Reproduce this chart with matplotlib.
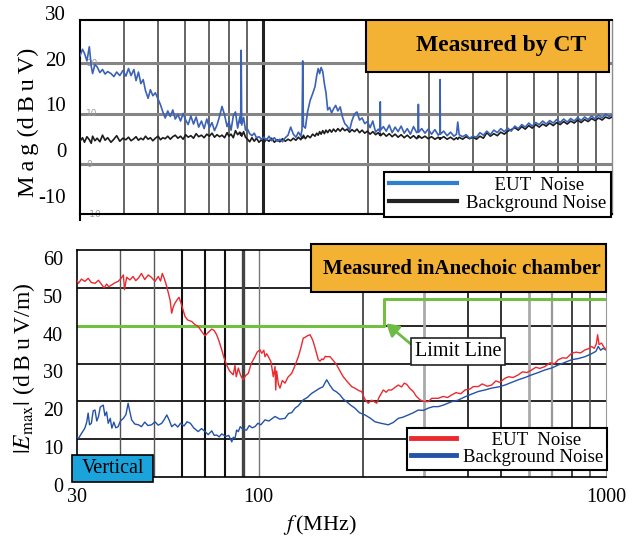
import matplotlib
matplotlib.use("Agg")
import matplotlib.pyplot as plt
import matplotlib.transforms as mtransforms
from matplotlib.lines import Line2D
from matplotlib.patches import Rectangle
from matplotlib.ticker import NullLocator

plt.rcParams["font.family"] = ["Times New Roman", "Liberation Serif", "DejaVu Serif"]
plt.rcParams["mathtext.fontset"] = "stix"

# ---------------- upper panel: current-probe (CT) spectrum, dBuV ----------------
ct_freq = [
    30.0, 30.5, 30.9, 31.4, 31.9, 32.3, 32.6, 33.1, 33.6, 34.2,
    34.8, 35.4, 36.0, 36.8, 37.5, 38.2, 39.0, 39.8, 40.6, 41.3,
    42.0, 42.8, 43.4, 44.1, 44.8, 45.5, 46.2, 47.0, 47.7, 48.5,
    49.3, 50.2, 51.0, 51.8, 52.6, 53.5, 54.4, 55.3, 56.2, 57.2,
    58.2, 59.2, 60.2, 61.2, 62.3, 63.4, 64.5, 65.6, 66.8, 68.0,
    69.2, 70.4, 71.6, 72.8, 74.0, 75.3, 76.5, 77.8, 79.1, 80.1,
    81.2, 82.4, 83.6, 84.8, 86.0, 86.5, 86.8, 87.1, 88.2, 89.3,
    90.5, 91.8, 93.2, 94.6, 96.0, 97.6, 99.2, 100.8, 102.5, 104.3,
    106.1, 108.0, 110.0, 112.0, 114.0, 116.1, 118.2, 120.3, 122.4, 124.5,
    126.6, 128.6, 129.6, 130.2, 130.8, 132.5, 134.5, 136.8, 139.0, 141.2,
    142.8, 144.2, 145.6, 147.0, 148.6, 150.2, 151.8, 153.5, 155.5, 157.5,
    159.5, 161.8, 164.2, 166.7, 169.2, 171.8, 174.5, 177.3, 180.2, 183.2,
    186.2, 189.4, 192.6, 196.0, 199.5, 203.0, 206.7, 210.5, 214.4, 216.6,
    217.1, 217.6, 221.6, 225.9, 230.3, 234.8, 239.4, 244.2, 249.1, 254.2,
    259.4, 264.8, 270.3, 276.0, 278.6, 279.1, 279.6, 285.3, 291.5, 297.8,
    304.4, 311.2, 318.2, 321.6, 322.1, 322.6, 329.8, 337.3, 345.0, 352.8,
    358.8, 361.8, 365.2, 373.6, 382.2, 391.0, 400.0, 409.2, 418.7, 428.4,
    438.3, 448.5, 458.9, 469.6, 480.5, 491.7, 503.1, 514.8, 526.8, 539.1,
    551.7, 564.5, 577.7, 591.1, 604.9, 619.0, 633.4, 648.2, 663.3, 678.7,
    694.5, 710.7, 727.2, 744.2, 761.5, 779.2, 797.4, 815.9, 834.9, 854.4,
    874.3, 894.6, 915.5, 936.8, 958.6, 981.0, 1000.0,
]
ct_eut = [
    21.5, 22.8, 22.0, 20.5, 23.3, 19.5, 18.0, 19.8, 19.3, 18.2,
    18.8, 17.9, 18.4, 18.0, 17.4, 18.3, 17.6, 18.6, 17.5, 19.0,
    17.6, 18.8, 16.6, 18.3, 16.0, 16.8, 14.6, 13.1, 14.8, 13.6,
    14.2, 12.9, 11.8, 10.4, 9.2, 10.6, 9.5, 10.8, 9.0, 9.9,
    8.6, 10.1, 8.8, 7.9, 9.6, 8.0, 9.4, 7.4, 8.6, 7.1,
    9.0, 7.3, 8.3, 6.7, 7.8, 9.6, 11.5, 9.8, 7.5, 8.5,
    6.8, 9.6, 10.4, 7.2, 9.4, 8.2, 22.6, 7.8, 9.3, 6.8,
    7.0, 6.1, 5.7, 6.2, 5.3, 5.5, 5.0, 5.4, 4.8, 5.6,
    4.7, 5.3, 4.6, 5.0, 4.5, 5.3, 5.8, 7.4, 6.0, 5.4,
    6.4, 5.6, 6.9, 20.5, 7.6, 7.2, 10.5, 12.7, 14.0, 15.4,
    17.6, 19.0, 18.0, 19.2, 18.4, 16.0, 14.2, 10.8, 11.3, 10.2,
    11.0, 11.7, 10.6, 11.4, 9.4, 8.1, 7.6, 6.8, 8.7, 10.0,
    10.4, 8.8, 9.2, 8.1, 8.5, 7.3, 8.6, 6.4, 7.0, 6.5,
    12.4, 6.8, 7.5, 6.6, 7.8, 6.3, 7.4, 6.5, 7.6, 6.2,
    7.1, 6.0, 7.5, 6.3, 6.6, 11.9, 6.4, 7.1, 6.2, 7.0,
    6.0, 6.9, 5.8, 6.2, 16.8, 6.0, 6.6, 5.7, 6.4, 5.6,
    6.0, 8.4, 5.9, 5.5, 5.9, 5.2, 5.6, 5.4, 6.3, 5.8,
    6.6, 5.9, 6.8, 6.3, 7.1, 6.5, 7.2, 6.6, 7.6, 7.1,
    7.9, 7.4, 8.2, 7.6, 8.3, 7.9, 8.6, 8.0, 8.7, 8.2,
    8.9, 8.3, 9.0, 8.4, 9.1, 8.6, 9.3, 8.7, 9.4, 8.9,
    9.6, 9.0, 9.8, 9.2, 10.0, 9.5, 9.8,
]
ct_background = [
    4.6, 5.3, 4.4, 5.5, 4.9, 4.2, 5.6, 4.7, 5.2, 4.5,
    5.8, 4.8, 5.3, 4.4, 5.0, 5.7, 4.6, 5.2, 4.9, 5.4,
    4.7, 5.1, 5.5, 4.8, 5.2, 4.9, 5.6, 5.0, 5.3, 4.7,
    5.2, 5.6, 4.9, 5.3, 5.1, 5.6, 5.0, 5.5, 5.8, 5.2,
    5.6, 5.0, 5.9, 5.4, 5.7, 5.2, 6.1, 5.5, 5.8, 5.3,
    6.0, 5.6, 6.2, 5.4, 5.9, 5.5, 5.8, 5.3, 6.3, 5.6,
    6.0, 5.3, 6.7, 5.9, 6.4, 5.8, 6.2, 5.6, 6.5, 5.4,
    5.0, 4.5, 5.3, 4.6, 5.2, 4.4, 4.9, 4.3, 5.0, 4.6,
    5.2, 4.4, 4.9, 4.5, 5.1, 4.6, 5.0, 4.7, 5.2, 4.8,
    5.4, 4.9, 5.5, 5.2, 5.8, 5.1, 5.7, 5.3, 6.0, 5.6,
    6.2, 5.8, 6.5, 6.0, 6.7, 6.1, 6.8, 6.3, 6.9, 6.4,
    7.0, 6.5, 7.1, 6.6, 7.2, 6.7, 7.0, 6.4, 6.9, 6.5,
    7.0, 6.3, 6.8, 6.2, 6.6, 6.0, 6.5, 5.9, 6.3, 5.8,
    6.2, 5.7, 6.2, 5.6, 6.1, 5.5, 6.0, 5.4, 5.9, 5.3,
    5.8, 5.2, 5.7, 5.1, 5.6, 5.3, 5.7, 5.2, 5.6, 5.1,
    5.5, 5.0, 5.4, 5.0, 5.3, 5.1, 5.5, 5.0, 5.4, 4.9,
    5.3, 5.0, 5.4, 5.0, 5.5, 5.1, 5.4, 5.0, 5.6, 5.2,
    6.3, 5.6, 6.1, 5.7, 6.4, 6.0, 6.6, 6.9, 7.3, 6.8,
    7.5, 7.0, 7.7, 7.2, 7.9, 7.4, 8.0, 7.6, 8.2, 7.7,
    8.3, 7.9, 8.5, 8.0, 8.6, 8.2, 8.8, 8.3, 8.9, 8.5,
    9.1, 8.7, 9.2, 8.8, 9.4, 9.1, 9.4,
]
ct_inner_ticks = [20, 10, 0, -10]
ct_outer_ticks = [30, 20, 10, 0, -10]

# ---------------- lower panel: anechoic chamber field strength, dBuV/m ----------------
ac_eut_freq = [
    30.0, 30.3, 30.9, 31.6, 32.3, 33.0, 33.8, 34.6, 35.3, 35.9,
    36.5, 37.0, 37.8, 38.5, 39.4, 40.1, 40.8, 41.1, 41.7, 42.6,
    43.5, 44.3, 45.1, 46.0, 47.0, 48.1, 49.1, 50.3, 51.4, 52.2,
    52.8, 53.5, 54.4, 55.6, 56.2, 56.8, 57.4, 58.3, 59.0, 60.0,
    61.4, 62.5, 64.2, 65.5, 67.0, 68.5, 70.1, 71.6, 73.3, 74.5,
    75.7, 77.0, 78.3, 79.5, 80.9, 82.5, 84.5, 85.5, 86.2, 87.4,
    88.8, 90.3, 91.7, 93.4, 95.2, 97.6, 99.0, 100.9, 102.1, 103.5,
    104.3, 105.5, 106.6, 108.5, 110.2, 111.5, 112.0, 112.7, 114.0, 115.2,
    117.0, 119.1, 121.5, 124.5, 127.3, 130.1, 132.2, 134.4, 136.0, 138.0,
    140.5, 142.1, 143.6, 145.5, 148.5, 150.2, 152.0, 153.5, 155.5, 157.0,
    160.5, 164.0, 167.8, 171.5, 175.2, 180.0, 185.2, 190.0, 194.5, 198.0,
    200.0, 202.4, 206.8, 211.5, 216.2, 218.7, 222.0, 228.5, 233.0, 236.2,
    241.5, 247.0, 252.3, 258.0, 262.5, 266.8, 273.0, 278.7, 284.0, 291.4,
    298.0, 307.8, 315.0, 321.9, 328.9, 340.0, 350.0, 359.5, 370.0, 382.0,
    392.7, 405.0, 415.0, 428.9, 440.0, 455.0, 468.7, 482.0, 495.0, 511.8,
    525.0, 540.0, 559.2, 575.0, 592.0, 611.1, 628.0, 645.0, 667.3, 690.0,
    710.0, 728.8, 750.0, 770.0, 796.5, 820.0, 845.0, 870.0, 890.0, 909.0,
    925.0, 938.0, 946.0, 955.0, 971.0, 985.0, 1000.0,
]
ac_eut = [
    52.0, 51.2, 52.3, 51.7, 52.5, 51.4, 51.2, 52.0, 50.9, 50.0,
    51.0, 50.3, 50.8, 51.3, 51.7, 52.4, 53.4, 49.5, 52.8, 52.1,
    53.0, 51.9, 52.6, 53.8, 52.2, 53.4, 52.8, 51.7, 53.0, 51.8,
    53.8, 52.5, 50.3, 46.8, 43.3, 45.0, 45.9, 46.9, 47.5, 45.5,
    42.4, 41.5, 41.1, 40.3, 39.8, 38.5, 37.3, 38.2, 39.1, 38.7,
    37.6, 35.8, 33.6, 31.5, 29.6, 28.0, 27.0, 29.5, 26.5, 28.8,
    26.8, 25.7, 26.8, 27.4, 30.0, 31.8, 33.0, 33.6, 32.7, 33.5,
    31.8, 32.6, 31.8, 30.5, 26.5, 29.2, 23.0, 28.0, 24.5, 23.5,
    25.5, 24.8, 26.4, 27.4, 29.5, 31.8, 34.0, 36.7, 36.9, 37.3,
    37.6, 36.8, 35.8, 34.0, 31.0, 30.6, 31.2, 31.0, 31.9, 31.8,
    31.8, 30.8, 29.6, 28.0, 26.5, 25.2, 23.9, 23.4, 22.8, 22.6,
    21.5, 20.5, 19.5, 20.3, 19.8, 19.5, 21.0, 23.0, 22.4, 23.0,
    23.0, 23.7, 24.3, 23.8, 24.8, 24.5, 23.3, 22.6, 21.4, 20.4,
    20.0, 19.9, 20.8, 20.8, 20.8, 21.3, 21.0, 21.7, 22.3, 22.0,
    23.0, 23.2, 23.9, 23.9, 24.6, 24.0, 24.3, 25.4, 25.0, 26.1,
    26.5, 26.3, 27.0, 27.8, 27.6, 28.3, 29.0, 28.7, 29.2, 30.2,
    29.9, 31.0, 31.5, 31.4, 32.7, 33.0, 32.8, 33.6, 33.9, 34.5,
    34.0, 35.2, 37.6, 35.0, 35.4, 34.4, 33.6,
]
ac_bg_freq = [
    30.0, 30.3, 30.9, 31.6, 32.0, 32.3, 32.6, 33.0, 33.4, 33.8,
    34.2, 34.6, 35.0, 35.7, 36.1, 36.5, 36.9, 37.4, 37.8, 38.3,
    38.8, 39.4, 40.0, 40.8, 41.5, 42.1, 42.6, 43.1, 44.0, 45.1,
    46.0, 47.0, 48.0, 49.2, 50.3, 51.4, 52.6, 53.5, 54.4, 55.3,
    56.2, 57.4, 58.5, 59.6, 61.0, 62.2, 63.6, 65.0, 67.0, 68.5,
    70.1, 71.6, 73.3, 74.5, 75.7, 77.0, 78.3, 80.4, 82.0, 83.7,
    84.5, 85.5, 86.4, 87.4, 88.5, 90.3, 92.3, 94.0, 95.8, 97.6,
    99.5, 101.5, 104.3, 107.0, 111.5, 115.0, 119.1, 122.0, 124.5, 127.3,
    130.0, 134.4, 138.0, 142.1, 146.0, 150.2, 153.0, 157.0, 160.5, 164.0,
    167.5, 171.5, 175.2, 179.2, 184.0, 189.3, 195.0, 202.4, 210.0, 216.2,
    225.0, 236.2, 244.0, 252.3, 260.0, 269.6, 279.0, 288.1, 298.0, 307.8,
    318.0, 328.9, 340.0, 359.5, 375.0, 392.7, 410.0, 428.9, 448.0, 468.7,
    490.0, 511.8, 535.0, 559.2, 585.0, 611.1, 638.0, 667.3, 697.0, 728.8,
    762.0, 796.5, 832.0, 870.0, 909.0, 935.0, 950.0, 965.0, 980.0, 1000.0,
]
ac_background = [
    10.5, 10.2, 11.5, 12.9, 14.5, 16.9, 13.8, 14.2, 17.5, 17.7,
    14.8, 16.0, 18.5, 19.0, 16.2, 17.2, 14.2, 15.5, 12.9, 14.5,
    13.0, 13.3, 14.8, 15.5, 16.5, 19.5, 17.2, 15.1, 14.0, 13.8,
    13.3, 14.5, 13.6, 13.8, 14.6, 13.7, 14.2, 15.2, 16.4, 15.0,
    13.3, 14.0, 13.2, 14.2, 13.5, 14.6, 14.2, 13.0, 12.0, 12.8,
    12.0, 11.2, 12.2, 11.0, 11.1, 10.6, 11.4, 10.7, 11.0, 9.3,
    10.5, 10.2, 12.4, 12.0, 13.3, 12.5, 12.4, 13.6, 13.0, 13.3,
    14.2, 13.8, 15.1, 14.8, 16.0, 15.3, 15.5, 16.8, 17.0, 18.2,
    18.8, 20.4, 21.0, 22.1, 22.8, 23.5, 23.8, 25.7, 24.2, 23.0,
    22.5, 21.7, 20.6, 19.9, 19.0, 18.2, 17.0, 16.4, 15.5, 14.6,
    14.2, 13.8, 14.4, 15.5, 15.8, 16.4, 17.0, 17.7, 17.6, 18.2,
    18.6, 18.6, 19.0, 19.9, 20.3, 21.2, 21.9, 22.6, 23.0, 23.5,
    23.8, 24.3, 25.0, 25.7, 26.3, 27.0, 27.6, 28.3, 28.8, 29.6,
    30.3, 31.0, 31.3, 31.8, 32.6, 33.2, 34.5, 33.5, 34.0, 33.6,
]
limit_freq = [30, 230, 230, 1000]
limit_level = [40, 40, 47, 47]
ac_yticks = [0, 10, 20, 30, 40, 50, 60]
ac_xticks = [30, 100, 1000]
ac_xticklabels = ["30", "100", "1000"]

W, H = 640, 544
fig = plt.figure(figsize=(W / 100, H / 100), dpi=100)


def box(x0, y0, x1, y1):
    """Axes rectangle from pixel corners (top-left origin)."""
    return [x0 / W, 1 - y1 / H, (x1 - x0) / W, (y1 - y0) / H]


# ====================== upper panel ======================
ax1 = fig.add_axes(box(80, 20, 612, 214))
ax1.set_xscale("log")
ax1.set_xlim(30, 1000)
ax1.set_ylim(-9.8, 28.6)
ax1.xaxis.set_major_locator(NullLocator())
ax1.xaxis.set_minor_locator(NullLocator())
ax1.yaxis.set_major_locator(NullLocator())
ax1.tick_params(which="both", length=0)

for f in [40, 50, 60, 70, 80, 90, 200, 300, 400, 500, 600, 700, 800, 900]:
    ax1.axvline(f, color="#4a4a4a", lw=1.2, zorder=1)
ax1.axvline(100, color="#222222", lw=2.2, zorder=1)
for v in [20, 10, 0]:
    ax1.axhline(v, color="#858585", lw=2.2, zorder=1)

for side in ["top", "left", "bottom"]:
    ax1.spines[side].set_color("black")
    ax1.spines[side].set_linewidth(1.5)
ax1.spines["right"].set_color("#8a8a8a")
ax1.spines["right"].set_linewidth(1.0)
ax1.plot([0, 0], [0, -0.03], transform=ax1.transAxes, color="black",
         lw=1.5, clip_on=False)

ax1.plot(ct_freq, ct_background, color="#1c1c1c", lw=1.2, zorder=3)
ax1.plot(ct_freq, ct_eut, color="#3b62b6", lw=1.2, zorder=4)

blend1 = mtransforms.blended_transform_factory(ax1.transAxes, ax1.transData)
for v in ct_inner_ticks:
    ax1.text(0.012, max(v, -9.9), str(v), transform=blend1, fontsize=6.5,
             color="#9a9a9a", va="center", ha="left", family="DejaVu Sans",
             zorder=2, clip_on=False)
ax1.plot([0.038, 0.072], [-9.85, -9.85], transform=blend1, color="#9a9a9a",
         lw=1.5, clip_on=False)

# scale printed beside the screenshot
for L in ct_outer_ticks:
    ax1.text(-0.026, 2.34 + 0.906 * L, str(L), transform=blend1, fontsize=15,
             ha="right", va="center", clip_on=False)

ax1.add_patch(Rectangle((0.538, 0.732), 0.456, 0.268, transform=ax1.transAxes,
                        facecolor="#f3b233", edgecolor="black", lw=1.5, zorder=6))
ax1.text(0.791, 0.868, "Measured by CT", transform=ax1.transAxes, fontsize=17,
         fontweight="bold", ha="center", va="center", zorder=7)

h_eut = Line2D([], [], color="#2f7fcf", lw=3)
h_bg = Line2D([], [], color="#222222", lw=3)
leg1 = ax1.legend([h_eut, h_bg], ["      EUT  Noise", "Background Noise"],
                  loc="upper right", bbox_to_anchor=(0.998, 0.216),
                  fontsize=13.5, frameon=True, fancybox=False, framealpha=1,
                  edgecolor="black", handlelength=3.6, handletextpad=0.5,
                  borderpad=0.25, labelspacing=0.05, borderaxespad=0)
leg1.get_frame().set_linewidth(1.5)
leg1.set_zorder(8)

fig.text(28 / W, 1 - 122 / H, "M\u2009a\u2009g (d\u2009B\u2009u\u2009V)",
         rotation=90, fontsize=17.5, ha="center", va="center")

# ====================== lower panel ======================
ax2 = fig.add_axes(box(77, 250, 606, 477))
ax2.set_xscale("log")
ax2.set_xlim(30, 1000)
ax2.set_ylim(0, 60)
ax2.set_xticks(ac_xticks)
ax2.set_xticklabels(ac_xticklabels)
ax2.xaxis.set_minor_locator(NullLocator())
ax2.set_yticks(ac_yticks)
ax2.tick_params(which="both", length=0, labelsize=14.5)
ax2.tick_params(axis="x", pad=8)
ax2.tick_params(axis="y", pad=10)

offset = mtransforms.ScaledTranslation(0, -8 / 100, fig.dpi_scale_trans)
for lab in ax2.get_yticklabels():
    lab.set_transform(lab.get_transform() + offset)

for v in [10, 20, 30, 40, 50]:
    ax2.axhline(v, color="black", lw=1.2, zorder=1)
grid_style = {
    40: ("#555555", 1.0), 50: ("#555555", 1.0), 60: ("#111111", 1.5),
    70: ("#111111", 1.5), 80: ("#111111", 1.5), 90: ("#444444", 2.4),
    100: ("#777777", 1.0), 200: ("#333333", 1.2), 300: ("#aaaaaa", 2.0),
    400: ("#222222", 1.3), 500: ("#222222", 1.3), 600: ("#aaaaaa", 2.0),
    700: ("#999999", 1.6), 800: ("#333333", 1.3), 900: ("#555555", 1.2),
}
for f, (c, w) in grid_style.items():
    ax2.axvline(f, color=c, lw=w, zorder=1)
for side in ["top", "left", "bottom"]:
    ax2.spines[side].set_color("black")
    ax2.spines[side].set_linewidth(1.2)
ax2.spines["right"].set_color("#999999")

ax2.plot(limit_freq, limit_level, color="#72bf44", lw=2.2, zorder=2)
ax2.plot(ac_bg_freq, ac_background, color="#2352a6", lw=1.0, zorder=3)
ax2.plot(ac_eut_freq, ac_eut, color="#ea2a2f", lw=1.0, zorder=4)

ax2.add_patch(Rectangle((0.442, 0.815), 0.558, 0.211, transform=ax2.transAxes,
                        facecolor="#f3b233", edgecolor="black", lw=1.5,
                        zorder=6, clip_on=False))
ax2.text(0.727, 0.917, "Measured inAnechoic chamber", transform=ax2.transAxes,
         fontsize=15, fontweight="bold", ha="center", va="center", zorder=7)

ax2.add_patch(Rectangle((-0.009, -0.022), 0.153, 0.119, transform=ax2.transAxes,
                        facecolor="#1ba3dc", edgecolor="black", lw=1.2,
                        zorder=6, clip_on=False))
ax2.text(0.068, 0.036, "Vertical", transform=ax2.transAxes, fontsize=14.5,
         ha="center", va="center", zorder=7)

ax2.annotate("Limit Line", xy=(233, 40.6), xycoords="data",
             xytext=(0.72, 0.553), textcoords="axes fraction",
             fontsize=14.5, ha="center", va="center", zorder=7,
             bbox=dict(boxstyle="square,pad=0.18", fc="white", ec="#222222",
                       lw=1.2),
             arrowprops=dict(arrowstyle="-|>,head_length=0.5,head_width=0.3",
                             color="#6dbb45", lw=2, shrinkA=0, shrinkB=0,
                             relpos=(0.0, 0.72)))

h_eut2 = Line2D([], [], color="#ea2a2f", lw=3.5)
h_bg2 = Line2D([], [], color="#2352a6", lw=3.5)
leg2 = ax2.legend([h_eut2, h_bg2], ["      EUT  Noise", "Background Noise"],
                  loc="upper right", bbox_to_anchor=(1.002, 0.216),
                  fontsize=13.5, frameon=True, fancybox=False, framealpha=1,
                  edgecolor="black", handlelength=2.4, handletextpad=0.4,
                  borderpad=0.2, labelspacing=0.0, borderaxespad=0)
leg2.get_frame().set_linewidth(1.5)
leg2.set_zorder(8)

fig.text(24 / W, 1 - 368 / H,
         r"$|E_{\mathrm{max}}|$ (d" + "\u2009B\u2009u\u2009V/m)",
         rotation=90, fontsize=17, ha="center", va="center")
fig.text(320 / W, 1 - 525 / H, r"$f\,$(MHz)", fontsize=16,
         ha="center", va="center")

fig.savefig("out.png", dpi=100)
